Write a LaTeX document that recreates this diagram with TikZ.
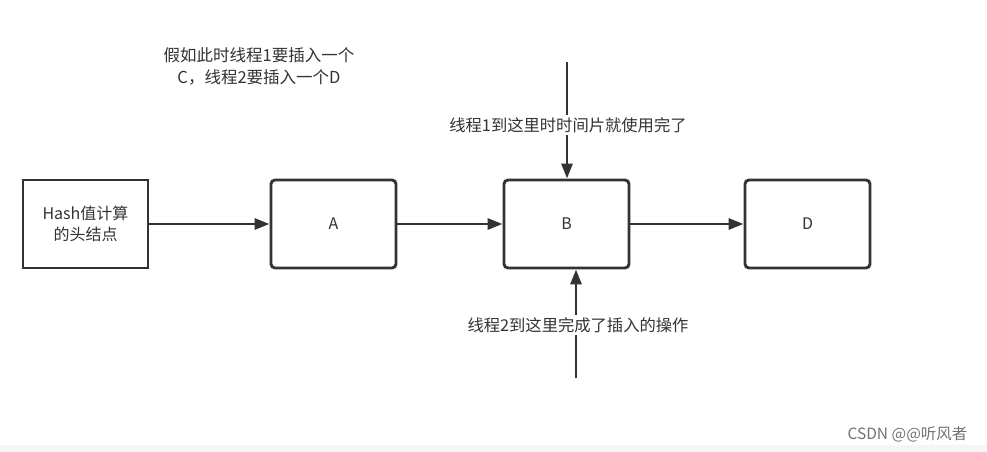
\documentclass[tikz,border=0pt]{standalone}
\usepackage{fontspec}
\setmainfont{Noto Sans CJK SC}
\usetikzlibrary{arrows.meta}
\definecolor{ink}{HTML}{333333}
\tikzset{
  box/.style={draw=ink, line width=2.9pt, minimum width=125pt, minimum height=88pt, inner sep=0pt, font=\fontsize{16}{21}\selectfont, text=ink},
  rbox/.style={box, rounded corners=4pt},
  conn/.style={draw=ink, line width=2.9pt, -{Triangle[length=15pt,width=11pt]}},
  lbl/.style={font=\fontsize{16.3}{22}\selectfont, text=ink, fill=white, inner sep=2pt, align=center}
}
\begin{document}
\begin{tikzpicture}[x=1pt,y=-1pt]
\useasboundingbox (0,0) rectangle (987,452);
\fill[white] (0,0) rectangle (987,452);
\fill[black!4] (0,445) rectangle (987,452);
\node[box, align=center] (head) at (85.5,224) {Hash值计算\\的头结点};
\node[rbox] (A) at (333.5,224) {A};
\node[rbox] (B) at (566.5,224) {B};
\node[rbox] (D) at (807.5,224) {D};
\draw[conn] (head) -- (A);
\draw[conn] (A) -- (B);
\draw[conn] (B) -- (D);
\coordinate (t1) at (567,62);
\coordinate (t2) at (576,378);
\draw[conn] (t1) -- (t1 |- B.north);
\draw[conn] (t2) -- (t2 |- B.south);
\node[lbl] (l1) at (568,125) {线程1到这里时时间片就使用完了};
\node[lbl] (l2) at (578,325) {线程2到这里完成了插入的操作};
\node[lbl, fill=none, font=\fontsize{16.5}{22}\selectfont] (note) at (259,66) {假如此时线程1要插入一个\\C，线程2要插入一个D};
\node[font=\fontsize{15.5}{18}\selectfont, text=black!55, anchor=east] (wm) at (971,434) {CSDN @@听风者};
\end{tikzpicture}
\end{document}
